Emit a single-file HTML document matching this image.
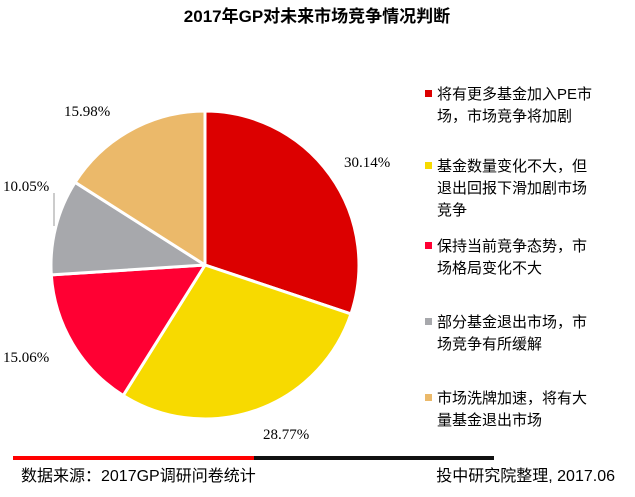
<!DOCTYPE html>
<html><head><meta charset="utf-8"><style>
body{margin:0;background:#fff;width:635px;height:492px;overflow:hidden;font-family:"Liberation Sans","Noto Sans CJK SC",sans-serif;}
</style></head><body>
<svg width="635" height="492" xmlns="http://www.w3.org/2000/svg">
<text x="317" y="22" text-anchor="middle" font-size="17" font-weight="bold" font-family="Liberation Sans, Noto Sans CJK SC, sans-serif">2017年GP对未来市场竞争情况判断</text>
<g stroke="#fff" stroke-width="3" stroke-linejoin="round">
<path d="M205,265 L205,111 A154,154 0 0 1 351,313.9 Z" fill="#DC0000"/>
<path d="M205,265 L351,313.9 A154,154 0 0 1 123.2,395.5 Z" fill="#F7DA00"/>
<path d="M205,265 L123.2,395.5 A154,154 0 0 1 51.3,274.9 Z" fill="#FF0033"/>
<path d="M205,265 L51.3,274.9 A154,154 0 0 1 75.1,182.3 Z" fill="#A7A8AC"/>
<path d="M205,265 L75.1,182.3 A154,154 0 0 1 205,111 Z" fill="#EBB96A"/>
</g>
<line x1="54" y1="193" x2="54" y2="226" stroke="#999" stroke-width="1"/>
<g font-family="Liberation Serif, serif" font-size="15" fill="#000">
<text x="344" y="167">30.14%</text>
<text x="263" y="439">28.77%</text>
<text x="3" y="362">15.06%</text>
<text x="3" y="191">10.05%</text>
<text x="64" y="116">15.98%</text>
</g>
<g font-size="15" fill="#000">
<rect x="425" y="90" width="7" height="7" fill="#DC0000"/>
<text x="437" y="99">将有更多基金加入PE市</text><text x="437" y="121">场，市场竞争将加剧</text>
<rect x="425" y="162" width="7" height="7" fill="#F7DA00"/>
<text x="437" y="171">基金数量变化不大，但</text><text x="437" y="193">退出回报下滑加剧市场</text><text x="437" y="215">竞争</text>
<rect x="425" y="242" width="7" height="7" fill="#FF0033"/>
<text x="437" y="251">保持当前竞争态势，市</text><text x="437" y="273">场格局变化不大</text>
<rect x="425" y="318" width="7" height="7" fill="#A7A8AC"/>
<text x="437" y="327">部分基金退出市场，市</text><text x="437" y="349">场竞争有所缓解</text>
<rect x="425" y="394" width="7" height="7" fill="#EBB96A"/>
<text x="437" y="403">市场洗牌加速，将有大</text><text x="437" y="425">量基金退出市场</text>
</g>
<rect x="13" y="456" width="241" height="4" fill="#FF0000"/>
<rect x="254" y="456" width="240" height="4" fill="#111"/>
<text x="21" y="481" font-size="16">数据来源：2017GP调研问卷统计</text>
<text x="615" y="481" font-size="16" text-anchor="end">投中研究院整理, 2017.06</text>
</svg>
</body></html>
